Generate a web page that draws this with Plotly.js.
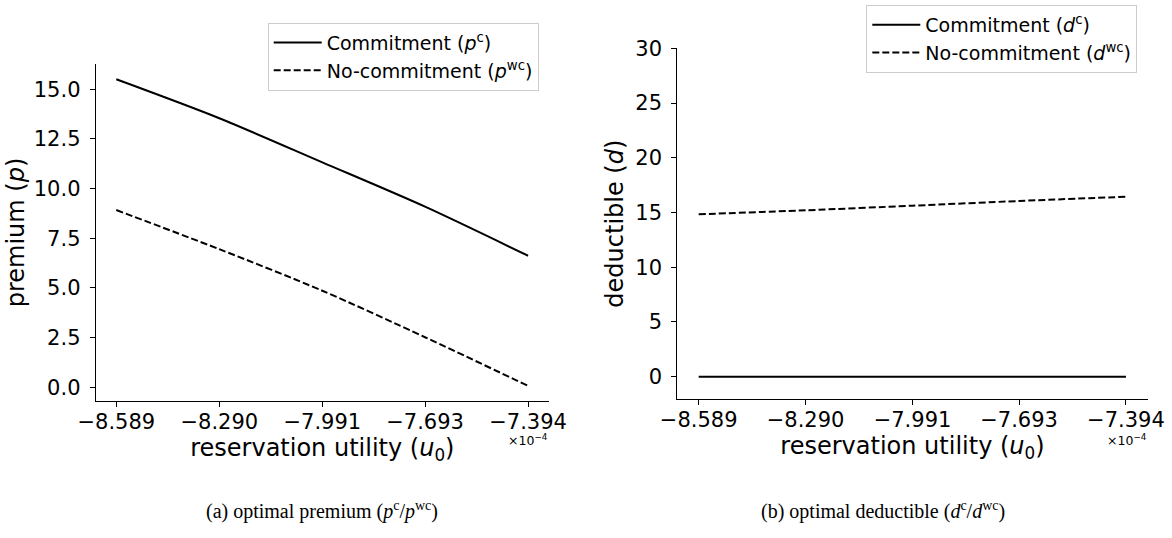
<!DOCTYPE html>
<html>
<head>
<meta charset="utf-8">
<script src="https://cdn.plot.ly/plotly-3.0.1.min.js"></script>
<style>html,body{margin:0;padding:0;background:#fff;}#chart{width:1172px;height:538px;}</style>
</head>
<body>
<div id="chart"></div>
<script>
// reservation utility u0 (in units of 1e-4)
const u0 = [-8.589, -8.290, -7.991, -7.693, -7.394];
const xTickText = ['\u22128.589', '\u22128.290', '\u22127.991', '\u22127.693', '\u22127.394'];
// premium
const pCommit = [15.50, 13.54, 11.32, 9.09, 6.62];
const pNoCommit = [8.92, 6.95, 4.86, 2.52, 0.07];
// deductible
const dCommit = [0, 0, 0, 0, 0];
const dNoCommit = [14.83, 15.20, 15.62, 16.05, 16.44];
// y tick values
const pTicks = [0, 2.5, 5, 7.5, 10, 12.5, 15];
const dTicks = [0, 5, 10, 15, 20, 25, 30];

const W = 1172, H = 538;
const px = v => v / W;
const py = v => 1 - v / H;
const FONT = 'DejaVu Sans, sans-serif';

const traces = [
  {x: u0, y: pCommit, mode: 'lines', name: 'Commitment (<i>p</i><sup>c</sup>)',
   line: {color: '#000', width: 2, shape: 'spline', smoothing: 0.8}, xaxis: 'x', yaxis: 'y', legend: 'legend'},
  {x: u0, y: pNoCommit, mode: 'lines', name: 'No-commitment (<i>p</i><sup>wc</sup>)',
   line: {color: '#000', width: 2, dash: '7px,3px', shape: 'spline', smoothing: 0.8}, xaxis: 'x', yaxis: 'y', legend: 'legend'},
  {x: u0, y: dCommit, mode: 'lines', name: 'Commitment (<i>d</i><sup>c</sup>)',
   line: {color: '#000', width: 2}, xaxis: 'x2', yaxis: 'y2', legend: 'legend2'},
  {x: u0, y: dNoCommit, mode: 'lines', name: 'No-commitment (<i>d</i><sup>wc</sup>)',
   line: {color: '#000', width: 2, dash: '7px,3px', shape: 'spline', smoothing: 0.8}, xaxis: 'x2', yaxis: 'y2', legend: 'legend2'}
];

const axBase = {
  showline: true, linecolor: '#000', linewidth: 1, mirror: false,
  showgrid: false, zeroline: false,
  ticks: 'outside', ticklen: 5, tickwidth: 1, tickcolor: '#000',
  tickfont: {family: FONT, size: 21, color: '#000'}
};

const xRange = [-8.6488, -7.3332];
const titleFont = {family: FONT, size: 24, color: '#000'};

const legendBase = {
  xanchor: 'right', yanchor: 'top',
  bordercolor: '#cccccc', borderwidth: 1, bgcolor: 'rgba(255,255,255,0.8)',
  font: {family: FONT, size: 19, color: '#000'}, traceorder: 'normal',
  itemwidth: 48
};

const layout = {
  width: W, height: H,
  margin: {l: 0, r: 0, t: 0, b: 0},
  paper_bgcolor: '#fff', plot_bgcolor: '#fff',
  font: {family: FONT, color: '#000'},
  xaxis: Object.assign({}, axBase, {
    domain: [px(95.7), px(549)], range: xRange, anchor: 'y',
    tickmode: 'array', tickvals: u0, ticktext: xTickText, ticklabelstandoff: -3,
    title: {text: 'reservation utility (<i>u</i><sub>0</sub>)', font: titleFont, standoff: 4}
  }),
  yaxis: Object.assign({}, axBase, {
    domain: [py(401), py(64)], range: [-0.69, 16.27], anchor: 'x',
    tickmode: 'array', tickvals: pTicks, tickformat: '.1f', ticklabelstandoff: 5,
    title: {text: 'premium (<i>p</i>)', font: titleFont, standoff: 2}
  }),
  xaxis2: Object.assign({}, axBase, {
    domain: [px(677.3), px(1147.7)], range: xRange, anchor: 'y2',
    tickmode: 'array', tickvals: u0, ticktext: xTickText, ticklabelstandoff: -3,
    title: {text: 'reservation utility (<i>u</i><sub>0</sub>)', font: titleFont, standoff: 4}
  }),
  yaxis2: Object.assign({}, axBase, {
    domain: [py(399), py(48.3)], range: [-2.04, 30], anchor: 'x2',
    tickmode: 'array', tickvals: dTicks, ticklabelstandoff: 5,
    title: {text: 'deductible (<i>d</i>)', font: titleFont, standoff: 4}
  }),
  legend: Object.assign({}, legendBase, {x: px(538.7), y: py(22.7)}),
  legend2: Object.assign({}, legendBase, {x: px(1137.3), y: py(5)}),
  annotations: [
    {xref: 'paper', yref: 'paper', x: px(550), y: py(440), xanchor: 'right', yanchor: 'middle',
     text: '\u00d710<sup>\u22124</sup>', showarrow: false, font: {family: FONT, size: 12.5, color: '#000'}},
    {xref: 'paper', yref: 'paper', x: px(1149), y: py(440), xanchor: 'right', yanchor: 'middle',
     text: '\u00d710<sup>\u22124</sup>', showarrow: false, font: {family: FONT, size: 12.5, color: '#000'}},
    {xref: 'paper', yref: 'paper', x: px(322), y: py(510), xanchor: 'center', yanchor: 'middle',
     text: '(a) optimal premium (<i>p</i><sup>c</sup>/<i>p</i><sup>wc</sup>)', showarrow: false,
     font: {family: 'Liberation Serif, serif', size: 20, color: '#000'}},
    {xref: 'paper', yref: 'paper', x: px(883), y: py(510), xanchor: 'center', yanchor: 'middle',
     text: '(b) optimal deductible (<i>d</i><sup>c</sup>/<i>d</i><sup>wc</sup>)', showarrow: false,
     font: {family: 'Liberation Serif, serif', size: 20, color: '#000'}}
  ]
};

Plotly.newPlot('chart', traces, layout, {staticPlot: true, displayModeBar: false});
</script>
</body>
</html>
